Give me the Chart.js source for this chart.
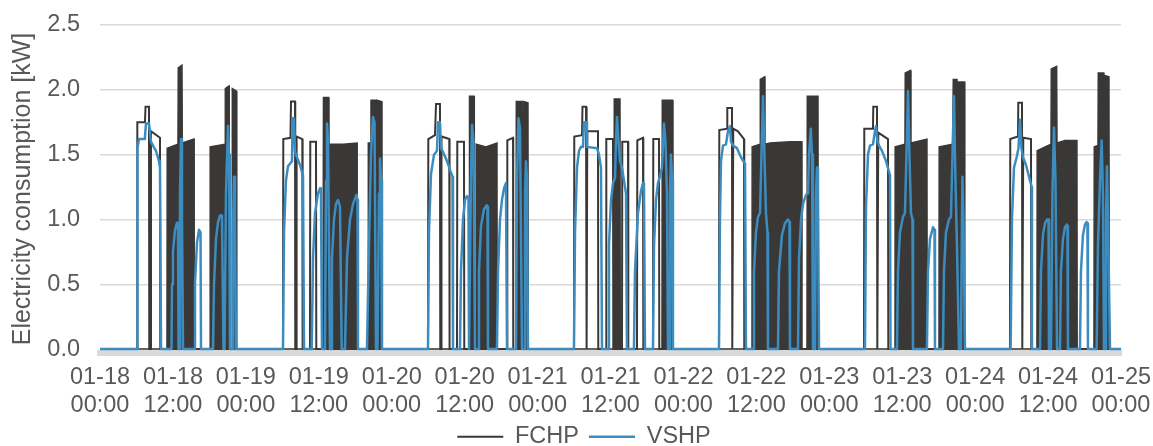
<!DOCTYPE html>
<html>
<head>
<meta charset="utf-8">
<script src="https://cdn.jsdelivr.net/npm/chart.js@4.4.0/dist/chart.umd.min.js"></script>
<style>
html,body{margin:0;padding:0;background:#fff;}
#wrap{width:1153px;height:446px;position:relative;}
</style>
</head>
<body>
<div id="wrap"><canvas id="c"></canvas></div>
<script>
// Tick labels (every 12 h from 01-18 00:00)
const tickDates = ['01-18','01-18','01-19','01-19','01-20','01-20','01-21','01-21','01-22','01-22','01-23','01-23','01-24','01-24','01-25'];
const tickTimes = ['00:00','12:00','00:00','12:00','00:00','12:00','00:00','12:00','00:00','12:00','00:00','12:00','00:00','12:00','00:00'];

// FCHP steady runs [hours since 01-18 00:00, kW] (drawn as outline)
const fchpRuns = [
 [0,0],[6.09,0],[6.14,1.75],[7.40,1.75],[7.49,1.87],[8.06,1.87],[8.11,0],[8.28,0],[8.39,1.68],[9.87,1.63],[9.92,0],
 [30.11,0],[30.16,1.62],[31.34,1.63],[31.43,1.91],[32.09,1.91],[32.13,0],[32.30,0],[32.35,1.64],[33.29,1.62],[33.34,0],
 [34.55,0],[34.60,1.60],[35.54,1.60],[35.59,0],
 [53.97,0],[54.02,1.62],[55.12,1.65],[55.29,1.89],[55.94,1.89],[55.99,0],[56.11,0],[56.19,1.64],[57.47,1.62],[57.52,0],
 [58.74,0],[58.79,1.60],[59.89,1.60],[59.94,0],[66.97,0],[67.02,1.61],[67.96,1.63],[68.00,0],
 [77.99,0],[78.04,1.64],[79.31,1.65],[79.39,1.87],[79.97,1.87],[80.01,0],[80.13,0],[80.18,1.68],[81.94,1.68],[81.99,0],
 [83.26,0],[83.31,1.62],[84.41,1.62],[84.46,0],[85.89,0],[85.94,1.60],[86.88,1.60],[86.93,0],
 [88.36,0],[88.41,1.61],[89.35,1.63],[89.40,0],[90.99,0],[91.04,1.62],[91.98,1.62],[92.03,0],
 [101.85,0],[101.90,1.69],[103.17,1.70],[103.22,1.86],[103.99,1.86],[104.04,0],[104.15,0],[104.20,1.70],[104.98,1.68],[105.97,1.62],[106.01,0],
 [125.71,0],[125.76,1.70],[127.19,1.70],[127.24,1.87],[127.85,1.87],[127.90,0],[128.01,0],[128.06,1.67],[129.66,1.62],[129.71,0],
 [149.73,0],[149.78,1.62],[151.05,1.64],[151.10,1.90],[151.71,1.90],[151.76,0],[151.87,0],[151.92,1.63],[153.19,1.62],[153.24,0],[168,0]
];

// FCHP rapid on/off cycling and short peaks: upper envelope [hours, kW] (drawn filled)
const fchpBursts = [
 [0,0],[11.02,0],[11.06,1.55],[12.83,1.58],[12.88,2.17],[13.49,2.19],[13.54,1.59],[15.47,1.62],[15.50,0],
 [18.10,0],[18.13,1.56],[20.57,1.58],[20.62,2.01],[21.23,2.03],[21.27,0],[21.72,0],[21.77,2.01],[22.46,1.99],[22.51,0],
 [36.69,0],[36.77,1.94],[37.60,1.94],[37.68,0],[37.84,0],[37.88,1.58],[40.00,1.58],[42.29,1.59],[42.32,0],
 [44.10,0],[44.15,1.59],[44.51,1.59],[44.59,1.92],[45.36,1.92],[45.41,0],[45.50,0],[45.58,1.92],[46.32,1.91],[46.40,0],
 [60.72,0],[60.80,1.95],[61.54,1.95],[61.59,0],[61.87,0],[61.90,1.58],[63.51,1.56],[65.32,1.59],[65.35,0],
 [68.45,0],[68.50,1.91],[69.39,1.91],[69.44,0],[69.60,0],[69.65,1.91],[70.42,1.90],[70.47,0],
 [84.57,0],[84.62,1.93],[85.56,1.93],[85.61,0],
 [92.47,0],[92.52,1.92],[93.21,1.92],[93.29,0],[93.38,1.92],[94.20,1.92],[94.28,0],
 [107.28,0],[107.31,1.56],[108.60,1.58],[108.65,2.08],[109.37,2.10],[109.42,1.58],[110.24,1.59],[113.53,1.60],[115.46,1.60],[115.51,0],
 [116.33,0],[116.38,1.95],[117.24,1.95],[117.32,0],[117.37,1.95],[118.14,1.95],[118.19,0],
 [130.81,0],[130.84,1.56],[132.45,1.58],[132.50,2.13],[133.36,2.15],[133.44,1.59],[136.07,1.62],[136.11,0],
 [138.05,0],[138.08,1.56],[140.30,1.58],[140.40,2.08],[141.01,2.08],[141.06,0],[141.17,0],[141.22,2.06],[142.25,2.06],[142.30,0],
 [154.17,0],[154.21,1.53],[156.48,1.58],[156.53,2.16],[157.41,2.18],[157.47,1.59],[158.78,1.61],[160.75,1.61],[160.79,0],
 [163.55,0],[163.60,1.56],[164.21,1.57],[164.26,2.13],[165.15,2.13],[165.20,0],[165.25,0],[165.30,2.11],[166.02,2.10],[166.07,0],[168,0]
];

// VSHP electricity [hours, kW]
const vshp = [
 [0,0],[6.09,0],[6.17,1.55],[6.42,1.62],[7.24,1.62],[7.40,1.64],[7.57,1.74],[8.06,1.74],[8.39,1.60],[8.72,1.57],[9.21,1.53],[9.71,1.45],[9.87,1.40],[10.04,0],
 [11.76,0],[11.85,0.5],[12.01,0.75],[12.34,0.92],[12.67,0.975],[12.83,0.95],[12.92,0],
 [13.00,0],[13.16,1.2],[13.33,1.62],[13.49,1.0],[13.66,0],
 [15.47,0],[15.63,0.5],[15.96,0.82],[16.29,0.92],[16.54,0.9],[16.62,0],
 [18.59,0],[18.76,0.5],[19.09,0.85],[19.42,0.98],[19.74,1.03],[20.07,1.03],[20.32,0],
 [20.49,0],[20.73,1.2],[21.06,1.72],[21.23,1.5],[21.39,0],
 [21.72,0],[21.88,0.9],[22.05,1.33],[22.21,1.0],[22.38,0],
 [30.11,0],[30.28,0.9],[30.60,1.3],[30.93,1.41],[31.26,1.43],[31.59,1.45],[31.71,1.78],[31.92,1.78],[32.09,1.52],[32.41,1.48],[32.91,1.42],[33.40,1.34],[33.57,0],
 [34.83,0],[35.05,0.7],[35.38,1.05],[35.87,1.2],[36.20,1.24],[36.36,1.2],[36.53,0],
 [37.02,0],[37.19,1.3],[37.35,1.74],[37.52,1.6],[37.84,0],
 [38.01,0],[38.17,0.7],[38.50,1.0],[38.83,1.12],[39.16,1.15],[39.49,1.1],[39.77,0],
 [40.31,0],[40.64,0.7],[41.14,1.0],[41.63,1.12],[42.20,1.19],[42.37,1.15],[42.45,0],
 [43.93,0],[44.26,0.8],[44.59,1.5],[44.92,1.79],[45.17,1.75],[45.41,0],
 [45.66,0],[45.91,1.2],[46.07,1.47],[46.24,1.3],[46.40,0],
 [53.97,0],[54.13,0.9],[54.46,1.35],[54.96,1.5],[55.45,1.53],[55.62,1.75],[55.94,1.75],[56.11,1.55],[56.44,1.52],[57.10,1.45],[57.76,1.36],[58.00,1.33],[58.08,0],
 [59.23,0],[59.40,0.6],[59.73,1.0],[60.06,1.15],[60.39,1.18],[60.63,1.17],[60.72,0],[60.88,0],[61.04,1.3],[61.21,1.73],[61.46,1.6],[61.70,0],
 [62.20,0],[62.36,0.6],[62.69,0.95],[63.18,1.08],[63.63,1.11],[63.76,1.1],[63.84,0],
 [65.32,0],[65.49,0.6],[65.82,1.0],[66.14,1.15],[66.47,1.24],[66.80,1.28],[66.97,0],
 [68.45,0],[68.61,1.3],[68.86,1.78],[69.11,1.7],[69.44,0],
 [69.77,0],[69.93,1.2],[70.09,1.45],[70.26,1.3],[70.42,0],
 [77.99,0],[78.16,0.9],[78.49,1.4],[78.82,1.53],[79.14,1.56],[79.47,1.56],[79.64,1.75],[79.97,1.75],[80.13,1.56],[81.78,1.55],[82.10,1.5],[82.43,1.4],[82.60,0],
 [83.59,0],[83.75,0.8],[84.08,1.15],[84.41,1.28],[84.74,1.32],[84.90,1.6],[85.07,1.79],[85.32,1.6],[85.56,1.45],[85.89,1.4],[86.22,1.3],[86.55,1.2],[86.71,0],
 [87.86,0],[88.03,0.6],[88.52,1.05],[89.02,1.22],[89.35,1.28],[89.51,1.25],[89.67,0],
 [90.99,0],[91.16,0.8],[91.49,1.15],[91.81,1.28],[92.14,1.33],[92.47,1.4],[92.80,1.74],[93.05,1.6],[93.29,1.2],[93.46,0],
 [93.71,0],[93.79,1.2],[93.95,1.5],[94.12,1.3],[94.28,0],
 [101.85,0],[102.01,1.0],[102.18,1.45],[102.51,1.57],[103.00,1.58],[103.33,1.68],[103.66,1.72],[103.83,1.6],[104.15,1.57],[104.81,1.55],[105.47,1.48],[106.13,1.43],[106.29,0],
 [107.45,0],[107.61,0.6],[107.94,0.9],[108.27,1.02],[108.60,1.05],[108.84,1.5],[109.09,1.95],[109.33,1.5],[109.58,1.05],[109.83,0.9],[109.91,0],
 [111.56,0],[111.72,0.6],[112.21,0.88],[112.71,0.97],[113.20,1.0],[113.45,0.98],[113.53,0],
 [114.85,0],[115.02,0.7],[115.35,1.0],[115.68,1.12],[116.17,1.19],[116.50,1.2],[116.67,1.5],[116.95,1.70],[117.16,1.5],[117.32,0],
 [117.65,0],[117.82,1.2],[117.98,1.40],[118.14,1.2],[118.31,0],
 [125.87,0],[126.04,1.1],[126.37,1.5],[126.70,1.57],[127.19,1.58],[127.52,1.68],[127.68,1.72],[127.93,1.6],[128.18,1.57],[128.67,1.53],[129.33,1.45],[129.82,1.37],[129.99,1.34],[130.07,0],
 [131.14,0],[131.30,0.6],[131.63,0.9],[132.13,1.02],[132.45,1.05],[132.70,1.5],[132.95,1.99],[133.19,1.5],[133.44,1.05],[133.69,1.0],[133.77,0],
 [136.07,0],[136.24,0.6],[136.57,0.85],[137.06,0.94],[137.31,0.92],[137.39,0],
 [138.71,0],[138.87,0.6],[139.20,0.9],[139.69,1.0],[140.02,1.02],[140.27,1.5],[140.52,1.95],[140.76,1.3],[141.01,0.8],[141.34,0],
 [141.67,0],[141.83,1.0],[141.91,1.33],[142.08,1.0],[142.33,0],
 [149.84,0],[150.06,1.0],[150.39,1.4],[150.83,1.48],[151.13,1.55],[151.38,1.77],[151.62,1.55],[151.87,1.48],[152.37,1.42],[152.86,1.33],[153.30,1.25],[153.35,0],
 [154.67,0],[154.83,0.6],[155.16,0.88],[155.49,0.97],[155.82,1.0],[156.07,1.0],[156.15,0],[156.48,0],[156.72,1.2],[156.97,1.71],[157.22,1.3],[157.47,0],
 [157.96,0],[158.12,0.6],[158.45,0.85],[158.78,0.94],[159.06,0.96],[159.19,0.95],[159.27,0],
 [161.25,0],[161.41,0.6],[161.74,0.88],[162.07,0.96],[162.35,0.98],[162.48,0.97],[162.56,0],
 [163.99,0],[164.21,0.8],[164.54,1.3],[164.82,1.61],[165.03,1.2],[165.20,0],
 [165.45,0],[165.53,1.0],[165.69,1.41],[165.86,1.0],[166.19,0],[168,0]
];

const toXY = arr => arr.map(p => ({x: p[0], y: p[1]}));
const FONT = "'Liberation Sans', Arial, sans-serif";
const TXT = '#595959';
const DARK = '#3a3836';
const BLUE = '#3c8cbf';
Chart.defaults.font.family = FONT;
Chart.defaults.color = TXT;

new Chart(document.getElementById('c'), {
  type: 'line',
  data: {
    datasets: [
      {label: 'FCHP', data: toXY(fchpRuns), borderColor: DARK, backgroundColor: DARK,
       borderWidth: 2, pointRadius: 0, tension: 0, fill: false, order: 2, borderJoinStyle: 'miter'},
      {label: 'VSHP', data: toXY(vshp), borderColor: BLUE, backgroundColor: BLUE,
       borderWidth: 2.5, pointRadius: 0, tension: 0, fill: false, order: 1, borderJoinStyle: 'round'},
      {label: 'FCHP bursts', data: toXY(fchpBursts), borderColor: DARK, backgroundColor: DARK,
       borderWidth: 1.5, pointRadius: 0, tension: 0, fill: 'origin', order: 3}
    ]
  },
  options: {
    responsive: true,
    maintainAspectRatio: false,
    animation: false,
    layout: {padding: {left: 15, right: 0, top: 25, bottom: -12.5}},
    scales: {
      x: {
        type: 'linear', min: 0, max: 168,
        grid: {display: false, drawTicks: false},
        border: {display: true, color: '#d9d9d9', width: 6},
        afterFit: s => { s.height = 62; s.paddingLeft = 0; s.paddingRight = 32; },
        ticks: {
          stepSize: 12, autoSkip: false, maxRotation: 0, minRotation: 0, includeBounds: false,
          padding: 10, color: TXT, font: {size: 23.5},
          callback: v => { const i = Math.round(v / 12); return [tickDates[i], tickTimes[i]]; }
        }
      },
      y: {
        min: -0.03, max: 2.5,
        grid: {color: '#d9d9d9', lineWidth: 1.5, drawTicks: false},
        border: {display: false},
        afterFit: s => { s.width = 85; s.paddingTop = 0; s.paddingBottom = 0; },
        ticks: {stepSize: 0.5, includeBounds: false, padding: 20, color: TXT, font: {size: 23.5},
                callback: v => Number(v).toFixed(1)},
        title: {display: true, text: 'Electricity consumption [kW]', color: TXT,
                font: {size: 25}, padding: {top: -7, bottom: 0}}
      }
    },
    plugins: {
      legend: {
        position: 'bottom',
        labels: {
          filter: item => item.datasetIndex !== 2,
          sort: (a, b) => a.datasetIndex - b.datasetIndex,
          usePointStyle: true, pointStyle: 'line', pointStyleWidth: 46,
          padding: 10, color: TXT, font: {size: 23.5}
        }
      },
      tooltip: {enabled: false}
    }
  }
});
</script>
</body>
</html>
